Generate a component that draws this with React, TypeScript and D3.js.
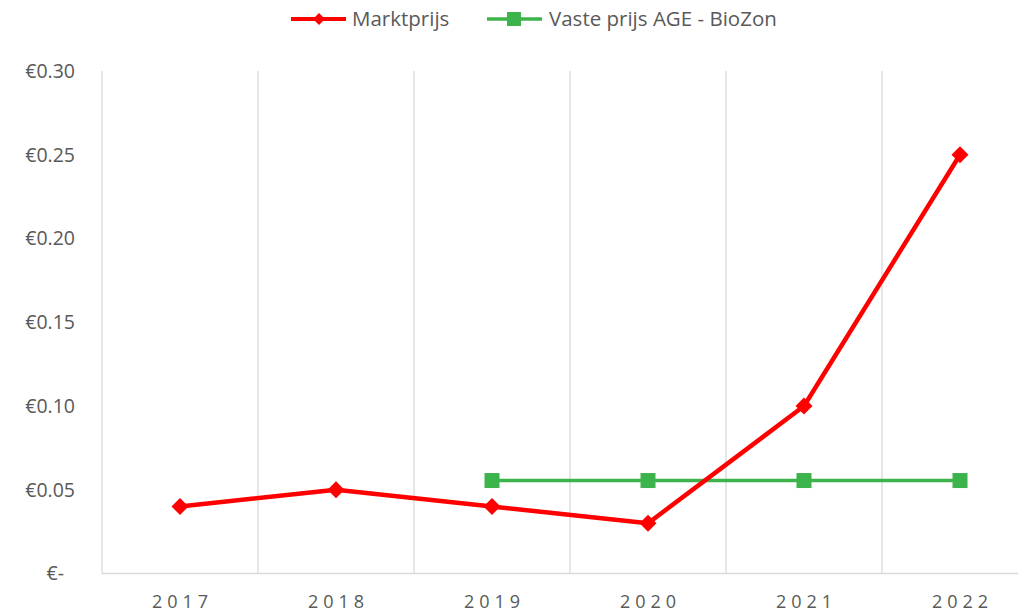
import React, { useRef, useEffect } from 'react';
import * as d3 from 'd3';

const years = ['2017', '2018', '2019', '2020', '2021', '2022'];
const marktprijs = [0.04, 0.05, 0.04, 0.03, 0.10, 0.25];
// vaste prijs only from 2019 onwards
const vastePrijsYears = ['2019', '2020', '2021', '2022'];
const vastePrijs = [0.0555, 0.0555, 0.0555, 0.0555];
const yTicks = [0, 0.05, 0.1, 0.15, 0.2, 0.25, 0.3];

const W = 1018, H = 612;
const FONT = '"Open Sans", Lato, sans-serif';

const App = () => {
  const ref = useRef<SVGSVGElement>(null);

  useEffect(() => {
    const svg = d3.select(ref.current);
    svg.selectAll('*').remove();

    const left = 102, top = 71, bottom = 573.5;
    const bandW = 156;

    const x = d3.scaleBand().domain(years).range([left, left + bandW * years.length]);
    const y = d3.scaleLinear().domain([0, 0.3]).range([bottom, top]);
    const cx = (d: string) => (x(d) as number) + x.bandwidth() / 2;

    // vertical gridlines between categories
    svg.append('g').selectAll('line').data(years.slice(1)).enter().append('line')
      .attr('x1', d => x(d) as number).attr('x2', d => x(d) as number)
      .attr('y1', top).attr('y2', bottom)
      .attr('stroke', '#d9d9d9').attr('stroke-width', 1.3);

    // axes lines
    svg.append('line').attr('x1', left).attr('x2', left).attr('y1', top).attr('y2', bottom)
      .attr('stroke', '#d9d9d9').attr('stroke-width', 1.3);
    svg.append('line').attr('x1', left).attr('x2', W).attr('y1', bottom).attr('y2', bottom)
      .attr('stroke', '#d9d9d9').attr('stroke-width', 1.3);

    // y labels
    svg.append('g').selectAll('text').data(yTicks).enter().append('text')
      .attr('x', d => d === 0 ? 64 : 75)
      .attr('y', d => y(d))
      .attr('dy', '0.35em')
      .attr('text-anchor', 'end')
      .attr('font-family', FONT).attr('font-size', 19.5).attr('fill', '#595959')
      .text(d => d === 0 ? '€-' : '€' + d3.format('.2f')(d));

    // x labels
    svg.append('g').selectAll('text').data(years).enter().append('text')
      .attr('x', d => cx(d) + 2.5)
      .attr('y', 608)
      .attr('text-anchor', 'middle')
      .attr('letter-spacing', 5)
      .attr('font-family', FONT).attr('font-size', 18).attr('fill', '#595959')
      .text(d => d);

    const line = d3.line<[string, number]>().x(d => cx(d[0])).y(d => y(d[1]));

    // green series
    const gData: [string, number][] = vastePrijsYears.map((d, i) => [d, vastePrijs[i]]);
    svg.append('path').datum(gData).attr('d', line)
      .attr('fill', 'none').attr('stroke', '#3cb44b').attr('stroke-width', 3.5);
    svg.append('g').selectAll('rect').data(gData).enter().append('rect')
      .attr('x', d => cx(d[0]) - 7.5).attr('y', d => y(d[1]) - 7.5)
      .attr('width', 15).attr('height', 15).attr('fill', '#3cb44b');

    // red series
    const rData: [string, number][] = years.map((d, i) => [d, marktprijs[i]]);
    svg.append('path').datum(rData).attr('d', line)
      .attr('fill', 'none').attr('stroke', '#ff0000').attr('stroke-width', 4.5)
      .attr('stroke-linejoin', 'round');
    const diamond = 'M0,-8.5L8.5,0L0,8.5L-8.5,0Z';
    svg.append('g').selectAll('path').data(rData).enter().append('path')
      .attr('d', diamond)
      .attr('transform', d => 'translate(' + cx(d[0]) + ',' + y(d[1]) + ')')
      .attr('fill', '#ff0000');

    // legend
    const lg = svg.append('g');
    lg.append('line').attr('x1', 291).attr('x2', 346).attr('y1', 19).attr('y2', 19)
      .attr('stroke', '#ff0000').attr('stroke-width', 4);
    lg.append('path').attr('d', 'M0,-6L6,0L0,6L-6,0Z').attr('transform', 'translate(319,19)').attr('fill', '#ff0000');
    lg.append('text').attr('x', 352).attr('y', 19).attr('dy', '0.35em')
      .attr('font-family', FONT).attr('font-size', 20.5).attr('fill', '#595959').text('Marktprijs');
    lg.append('line').attr('x1', 487).attr('x2', 542).attr('y1', 19).attr('y2', 19)
      .attr('stroke', '#3cb44b').attr('stroke-width', 3.5);
    lg.append('rect').attr('x', 507).attr('y', 12).attr('width', 14).attr('height', 14).attr('fill', '#3cb44b');
    lg.append('text').attr('x', 549).attr('y', 19).attr('dy', '0.35em')
      .attr('font-family', FONT).attr('font-size', 20.5).attr('fill', '#595959').text('Vaste prijs AGE - BioZon');
  }, []);

  return (
    <svg ref={ref} width={W} height={H} style={{ position: 'absolute', left: 0, top: 0, background: '#fff' }} />
  );
};

export default App;
